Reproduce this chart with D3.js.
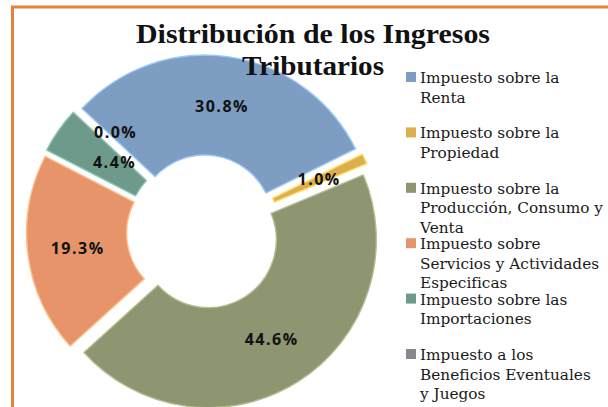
<html lang="es">
  <head>
    <meta charset="UTF-8" />
    <title>Distribución de los Ingresos Tributarios</title>
    <script src="https://cdn.jsdelivr.net/npm/d3@7"></script>
  </head>
  <style>
    body {
      margin: 0px;
      overflow: hidden;
      background: #fff;
    }
    .title {
      font-family: "Liberation Serif", serif;
      font-weight: bold;
      fill: #111;
    }
    .legend text {
      font-family: "DejaVu Serif", serif;
      font-size: 15.3px;
      fill: #1a1a1a;
    }
    .pct {
      font-family: "Comic Sans MS", "Open Sans", sans-serif;
      font-weight: 700;
      font-size: 16px;
      letter-spacing: 1.5px;
      fill: #111;
    }
  </style>
  <body>
    <svg width="608" height="407"></svg>
  </body>
  <footer>
    <script>
      // data
      var categories = [
        "Impuesto sobre la Renta",
        "Impuesto sobre la Propiedad",
        "Impuesto sobre la Producción, Consumo y Venta",
        "Impuesto sobre Servicios y Actividades Especificas",
        "Impuesto sobre las Importaciones",
        "Impuesto a los Beneficios Eventuales y Juegos"
      ];
      var shares = [30.8, 1.0, 44.6, 19.3, 4.4, 0.0];
      var legendLines = [
        ["Impuesto sobre la", "Renta"],
        ["Impuesto sobre la", "Propiedad"],
        ["Impuesto sobre la", "Producción, Consumo y", "Venta"],
        ["Impuesto sobre", "Servicios y Actividades", "Especificas"],
        ["Impuesto sobre las", "Importaciones"],
        ["Impuesto a los", "Beneficios Eventuales", "y Juegos"]
      ];
      var titleLines = ["Distribución de los Ingresos", "Tributarios"];

      var colors = ["#7d9dc2", "#dcae4e", "#8d9571", "#e8946a", "#6d9a8b", "#8a868e"];

      var svg = d3.select("svg");
      var width = +svg.attr("width");
      var height = +svg.attr("height");

      var data = categories.map(function (c, i) {
        return { name: c, value: shares[i], color: colors[i], lines: legendLines[i] };
      });

      // frame (right and bottom run off the picture)
      svg.append("rect")
        .attr("x", 12.5)
        .attr("y", 7)
        .attr("width", width + 20)
        .attr("height", height + 20)
        .attr("fill", "#fff")
        .attr("stroke", "#e0833f")
        .attr("stroke-width", 3);

      var cx = 203.5, cy = 232;
      var outerR = 168, innerR = 68, explode = 9;
      var start = (-47 * Math.PI) / 180;

      var pie = d3.pie()
        .sort(null)
        .value(function (d) { return d.value; })
        .startAngle(start)
        .endAngle(start + 2 * Math.PI);

      var arc = d3.arc().innerRadius(innerR).outerRadius(outerR);
      var arcs = pie(data);

      function mid(d) { return (d.startAngle + d.endAngle) / 2; }

      var g = svg.append("g").attr("transform", "translate(" + cx + "," + cy + ")");

      g.selectAll("path")
        .data(arcs)
        .enter()
        .append("path")
        .attr("transform", function (d) {
          var a = mid(d);
          return "translate(" + explode * Math.sin(a) + "," + (-explode * Math.cos(a)) + ")";
        })
        .attr("d", arc)
        .attr("fill", function (d) { return d.data.color; })
        .attr("stroke", function (d) { return d3.color(d.data.color).brighter(0.7); })
        .attr("stroke-width", function (d) { return d.data.value > 0 ? 1.4 : 0; })
        .attr("stroke-linejoin", "round");

      // labels that were dragged by hand in the original
      var labelShift = { 4: [15, 3], 5: [5, -13] };

      g.selectAll("text.pct")
        .data(arcs)
        .enter()
        .append("text")
        .attr("class", "pct")
        .attr("text-anchor", "middle")
        .attr("dy", "0.35em")
        .attr("transform", function (d, i) {
          var c = arc.centroid(d);
          var a = mid(d);
          var s = labelShift[i] || [0, 0];
          var x = c[0] + explode * Math.sin(a) + s[0];
          var y = c[1] - explode * Math.cos(a) + s[1];
          return "translate(" + x + "," + y + ")";
        })
        .text(function (d) { return d.data.value.toFixed(1) + "%"; });

      // title
      var title = svg.append("g").attr("class", "title");
      title.selectAll("text")
        .data(titleLines)
        .enter()
        .append("text")
        .attr("x", 313)
        .attr("y", function (d, i) { return 43 + i * 32; })
        .attr("text-anchor", "middle")
        .attr("font-size", 28)
        .attr("textLength", function (d, i) { return i === 0 ? 354 : 142; })
        .attr("lengthAdjust", "spacingAndGlyphs")
        .text(function (d) { return d; });

      // legend
      var legend = svg.append("g").attr("class", "legend");
      var item = legend.selectAll("g")
        .data(data)
        .enter()
        .append("g")
        .attr("transform", function (d, i) { return "translate(406," + (83 + i * 55.4) + ")"; });

      item.append("rect")
        .attr("x", 0)
        .attr("y", -11)
        .attr("width", 10)
        .attr("height", 10)
        .attr("fill", function (d) { return d.color; });

      item.append("text")
        .selectAll("tspan")
        .data(function (d) { return d.lines; })
        .enter()
        .append("tspan")
        .attr("x", 14)
        .attr("y", function (d, i) { return i * 19.5; })
        .text(function (d) { return d; });
    </script>
  </footer>
</html>
